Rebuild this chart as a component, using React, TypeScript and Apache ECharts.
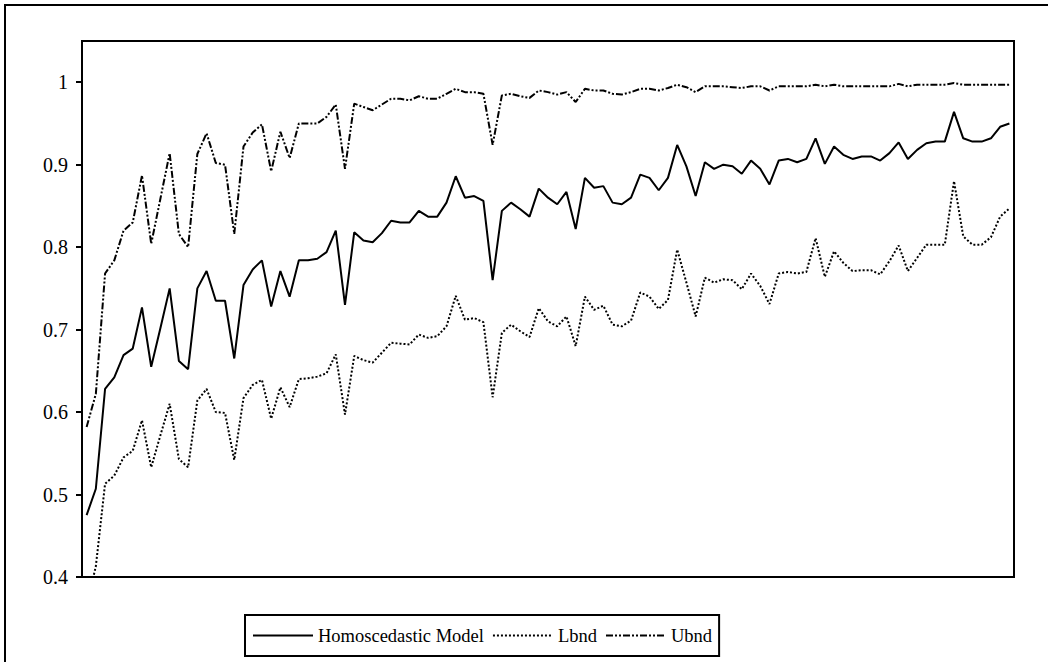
import React, { useEffect, useRef } from "react";
import * as echarts from "echarts";

const yTickValues = [0.4, 0.5, 0.6, 0.7, 0.8, 0.9, 1.0];
const yTickLabels = ["0.4", "0.5", "0.6", "0.7", "0.8", "0.9", "1"];

const seriesNames = ["Homoscedastic Model", "Lbnd", "Ubnd"];

const model = [
  0.475, 0.507, 0.628, 0.642, 0.669, 0.677, 0.727, 0.655, 0.702, 0.750,
  0.662, 0.652, 0.750, 0.771, 0.735, 0.735, 0.665, 0.754, 0.773, 0.784,
  0.728, 0.771, 0.740, 0.784, 0.784, 0.786, 0.794, 0.820, 0.730, 0.818,
  0.808, 0.806, 0.817, 0.832, 0.830, 0.830, 0.844, 0.837, 0.837, 0.854,
  0.886, 0.860, 0.862, 0.856, 0.760, 0.844, 0.854, 0.846, 0.837, 0.871,
  0.860, 0.852, 0.867, 0.822, 0.884, 0.872, 0.874, 0.854, 0.852, 0.860,
  0.888, 0.884, 0.869, 0.884, 0.924, 0.898, 0.862, 0.903, 0.895, 0.900,
  0.898, 0.889, 0.905, 0.895, 0.876, 0.905, 0.907, 0.903, 0.907, 0.932,
  0.901, 0.922, 0.912, 0.907, 0.910, 0.910, 0.905, 0.914, 0.927, 0.907,
  0.918, 0.926, 0.928, 0.928, 0.964, 0.932, 0.928, 0.928, 0.932, 0.946,
  0.950,
];

const lbnd = [
  0.365, 0.413, 0.513, 0.523, 0.545, 0.553, 0.590, 0.533, 0.572, 0.610,
  0.543, 0.533, 0.614, 0.628, 0.600, 0.599, 0.542, 0.617, 0.633, 0.639,
  0.592, 0.630, 0.606, 0.640, 0.641, 0.643, 0.647, 0.670, 0.597, 0.668,
  0.663, 0.660, 0.672, 0.684, 0.683, 0.682, 0.694, 0.690, 0.692, 0.704,
  0.741, 0.712, 0.714, 0.709, 0.618, 0.696, 0.706, 0.698, 0.691, 0.726,
  0.710, 0.704, 0.716, 0.680, 0.740, 0.724, 0.729, 0.706, 0.704, 0.711,
  0.745, 0.740, 0.725, 0.736, 0.797, 0.757, 0.716, 0.763, 0.757, 0.761,
  0.760, 0.749, 0.768, 0.753, 0.731, 0.768, 0.770, 0.768, 0.770, 0.811,
  0.764, 0.795, 0.781, 0.771, 0.772, 0.772, 0.767, 0.783, 0.802, 0.771,
  0.787, 0.803, 0.803, 0.803, 0.880, 0.813, 0.803, 0.803, 0.812, 0.837,
  0.847,
];

const ubnd = [
  0.582, 0.622, 0.768, 0.784, 0.820, 0.830, 0.887, 0.804, 0.859, 0.914,
  0.816, 0.800, 0.913, 0.938, 0.902, 0.900, 0.816, 0.922, 0.939, 0.949,
  0.892, 0.940, 0.908, 0.950, 0.950, 0.950, 0.958, 0.973, 0.895, 0.974,
  0.970, 0.966, 0.973, 0.980, 0.980, 0.978, 0.983, 0.980, 0.980, 0.986,
  0.992, 0.988, 0.988, 0.986, 0.924, 0.984, 0.986, 0.983, 0.981, 0.990,
  0.988, 0.985, 0.988, 0.976, 0.992, 0.990, 0.990, 0.986, 0.985, 0.988,
  0.992, 0.992, 0.990, 0.993, 0.997, 0.994, 0.988, 0.995, 0.995, 0.995,
  0.994, 0.993, 0.995, 0.995, 0.990, 0.995, 0.995, 0.995, 0.995, 0.997,
  0.995, 0.997, 0.995, 0.995, 0.995, 0.995, 0.995, 0.995, 0.998, 0.995,
  0.997, 0.997, 0.997, 0.997, 0.999, 0.997, 0.997, 0.997, 0.997, 0.997,
  0.997,
];

const categories = model.map((_, i) => String(i + 1));

const FONT = "'Liberation Serif', 'Times New Roman', serif";

export default function App() {
  const ref = useRef<HTMLDivElement>(null);
  useEffect(() => {
    if (!ref.current) return;
    const chart = echarts.init(ref.current, undefined, { renderer: "svg" });
    chart.setOption({
      animation: false,
      backgroundColor: "#fff",
      textStyle: { fontFamily: FONT, color: "#000" },
      graphic: [
        {
          type: "rect",
          shape: { x: 5, y: 5, width: 1100, height: 700 },
          style: { fill: "none", stroke: "#000", lineWidth: 2 },
          silent: true,
        },
      ],
      grid: {
        left: 82,
        top: 41,
        right: 34,
        bottom: 85,
        show: true,
        borderColor: "#000",
        borderWidth: 2,
        backgroundColor: "transparent",
      },
      legend: {
        left: 245,
        top: 615,
        orient: "horizontal",
        padding: [11, 7, 11, 7],
        borderColor: "#000",
        borderWidth: 2,
        itemWidth: 60,
        itemHeight: 14,
        itemGap: 8,
        itemStyle: { opacity: 0 },
        textStyle: { fontFamily: FONT, fontSize: 18.5, color: "#000" },
        data: seriesNames,
      },
      xAxis: {
        type: "category",
        data: categories,
        boundaryGap: true,
        axisLine: { show: true, lineStyle: { color: "#000", width: 2 } },
        axisTick: { show: false },
        axisLabel: { show: false },
        splitLine: { show: false },
      },
      yAxis: {
        type: "value",
        min: 0.4,
        max: 1.05,
        axisLine: { show: true, lineStyle: { color: "#000", width: 2 } },
        axisTick: {
          show: true,
          inside: false,
          length: 6,
          lineStyle: { color: "#000", width: 2 },
          customValues: yTickValues,
        },
        axisLabel: {
          show: true,
          margin: 14,
          fontFamily: FONT,
          fontSize: 20,
          color: "#000",
          customValues: yTickValues,
          formatter: (v: number) => {
            const idx = yTickValues.findIndex((t) => Math.abs(t - v) < 1e-9);
            return idx >= 0 ? yTickLabels[idx] : "";
          },
        },
        splitLine: { show: false },
      },
      series: [
        {
          name: seriesNames[0],
          type: "line",
          data: model,
          symbol: "none",
          lineStyle: { color: "#000", width: 2, type: "solid" },
          itemStyle: { color: "#000" },
        },
        {
          name: seriesNames[1],
          type: "line",
          data: lbnd,
          symbol: "none",
          lineStyle: { color: "#000", width: 2, type: [2, 2] },
          itemStyle: { color: "#000" },
        },
        {
          name: seriesNames[2],
          type: "line",
          data: ubnd,
          symbol: "none",
          lineStyle: { color: "#000", width: 2, type: [7, 2, 2, 2, 2, 2] },
          itemStyle: { color: "#000" },
        },
      ],
    });
    return () => chart.dispose();
  }, []);
  return (
    <div
      ref={ref}
      style={{ position: "fixed", left: 0, top: 0, width: 1048, height: 662 }}
    />
  );
}
